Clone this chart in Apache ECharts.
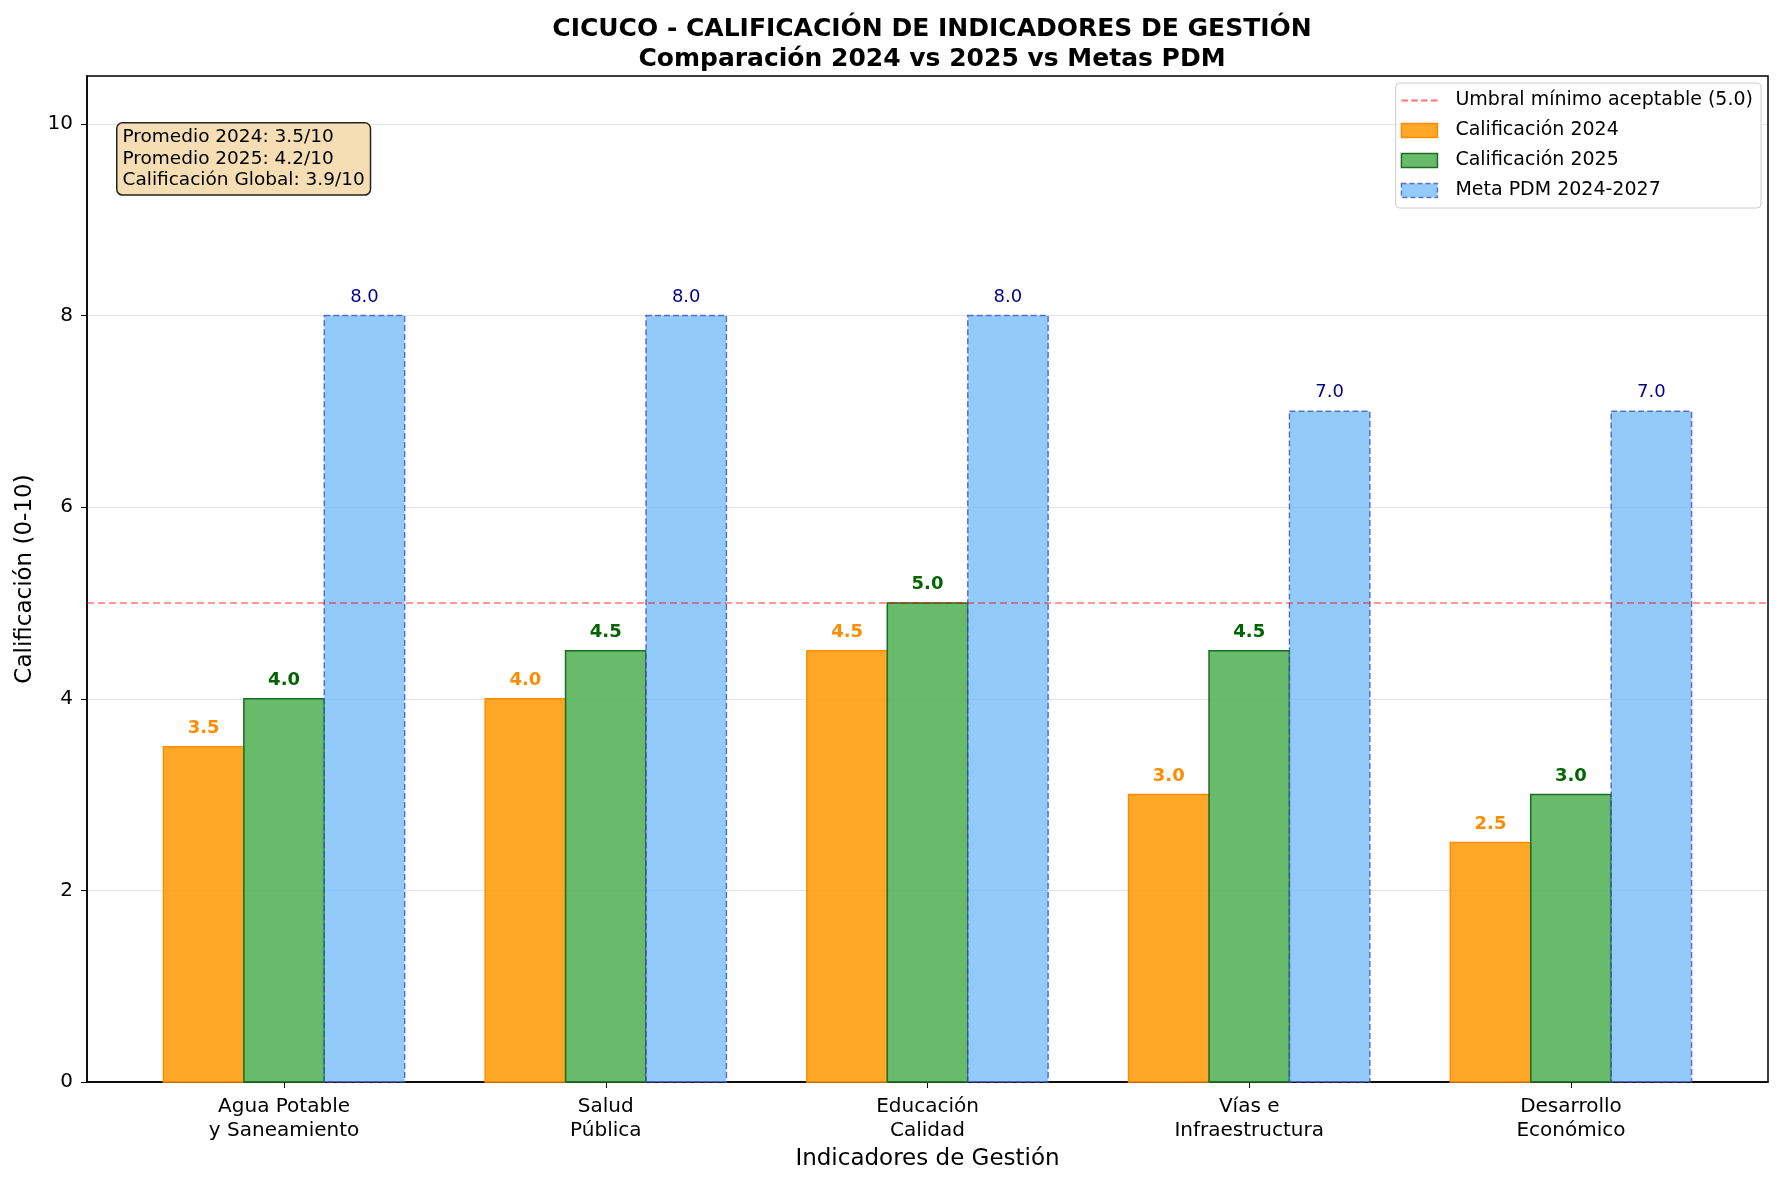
<!DOCTYPE html>
<html>
<head>
<meta charset="utf-8">
<script src="https://cdn.jsdelivr.net/npm/echarts@6/dist/echarts.min.js"></script>
<style>
    html, body { margin: 0; padding: 0; background: #fff; }
    #chart { width: 1785px; height: 1185px; }
</style>
</head>
<body>
<div id="chart"></div>
<script>
/*
|--------------------------------------------------------------------------
| Data
|--------------------------------------------------------------------------
*/

const categories = [
    'Agua Potable\ny Saneamiento',
    'Salud\nPública',
    'Educación\nCalidad',
    'Vías e\nInfraestructura',
    'Desarrollo\nEconómico',
];
const scores2024 = [3.5, 4.0, 4.5, 3.0, 2.5];
const scores2025 = [4.0, 4.5, 5.0, 4.5, 3.0];
const targetsPdm = [8.0, 8.0, 8.0, 7.0, 7.0];
const threshold = 5.0;
const summaryLines = [
    'Promedio 2024: 3.5/10',
    'Promedio 2025: 4.2/10',
    'Calificación Global: 3.9/10',
];

/*
|--------------------------------------------------------------------------
| Shared options
|--------------------------------------------------------------------------
*/

const fontFamily = 'DejaVu Sans';
const barWidth = 0.25;
const xMin = -0.6125;
const xMax = categories.length - 1 + 0.6125;
const thresholdColor = 'rgba(255, 0, 0, 0.55)';

// Dashed line used as legend icon for the threshold
const dashedLineIcon = 'path://M0,0h6v2h-6z M9,0h6v2h-6z M18,0h6v2h-6z M27,0h6v2h-6z';

const styles2024 = {
    fill: 'rgba(255, 152, 0, 0.85)',
    stroke: '#FF8C00',
    lineDash: null,
    label: '#FF8C00',
    fontWeight: 'bold',
};
const styles2025 = {
    fill: 'rgba(76, 175, 80, 0.85)',
    stroke: '#1B6E20',
    lineDash: null,
    label: '#006400',
    fontWeight: 'bold',
};
const stylesPdm = {
    fill: 'rgba(100, 181, 246, 0.7)',
    stroke: 'rgba(60, 70, 190, 0.75)',
    lineDash: [6, 3],
    label: '#00008B',
    fontWeight: 'normal',
};

// Draws one bar per category, shifted by offset, with its value on top
function barRenderer(offset, s) {
    return (params, api) => {
        const x = api.value(0) + offset;
        const y = api.value(1);
        const top = api.coord([x, y]);
        const base = api.coord([x, 0]);
        const w = api.size([barWidth, 0])[0];
        const labelPos = api.coord([x, y + 0.1]);

        return {
            type: 'group',
            children: [
                {
                    type: 'rect',
                    shape: { x: top[0] - w / 2, y: top[1], width: w, height: base[1] - top[1] },
                    style: { fill: s.fill, stroke: s.stroke, lineWidth: 1.5, lineDash: s.lineDash },
                },
                {
                    type: 'text',
                    x: labelPos[0],
                    y: labelPos[1],
                    style: {
                        text: y.toFixed(1),
                        fill: s.label,
                        font: `${s.fontWeight} 18px "${fontFamily}"`,
                        align: 'center',
                        verticalAlign: 'bottom',
                    },
                },
            ],
        };
    };
}

function toPoints(values) {
    return values.map((v, i) => [i, v]);
}

/*
|--------------------------------------------------------------------------
| Chart
|--------------------------------------------------------------------------
*/

function initializeChart() {
    const container = document.getElementById('chart');
    const chart = echarts.init(container, null, { renderer: 'canvas' });

    const series = [
        {
            name: 'Umbral mínimo aceptable (5.0)',
            type: 'line',
            symbol: 'none',
            z: 10,
            data: [[xMin, threshold], [xMax, threshold]],
            itemStyle: { color: thresholdColor },
            lineStyle: { color: thresholdColor, width: 1.5, type: [7, 4] },
            silent: true,
        },
        {
            name: 'Calificación 2024',
            type: 'custom',
            renderItem: barRenderer(-barWidth, styles2024),
            itemStyle: { color: styles2024.fill },
            data: toPoints(scores2024),
        },
        {
            name: 'Calificación 2025',
            type: 'custom',
            renderItem: barRenderer(0, styles2025),
            itemStyle: { color: styles2025.fill },
            data: toPoints(scores2025),
        },
        {
            name: 'Meta PDM 2024-2027',
            type: 'custom',
            renderItem: barRenderer(barWidth, stylesPdm),
            itemStyle: { color: stylesPdm.fill },
            data: toPoints(targetsPdm),
        },
    ];

    chart.setOption({
        animation: false,
        textStyle: { fontFamily },
        title: {
            text: 'CICUCO - CALIFICACIÓN DE INDICADORES DE GESTIÓN\nComparación 2024 vs 2025 vs Metas PDM',
            left: 927,
            top: 9,
            textAlign: 'center',
            textStyle: { fontFamily, fontSize: 25, fontWeight: 'bold', color: '#000', lineHeight: 30 },
        },
        grid: {
            left: 87,
            right: 17,
            top: 76,
            bottom: 103,
            show: true,
            borderColor: '#000',
            borderWidth: 1.5,
        },
        legend: {
            orient: 'vertical',
            right: 24,
            top: 83,
            padding: [8, 8, 8, 5],
            itemGap: 11,
            itemWidth: 36,
            itemHeight: 14,
            backgroundColor: 'rgba(255,255,255,0.85)',
            borderColor: '#cccccc',
            borderWidth: 1,
            borderRadius: 4,
            textStyle: { fontFamily, fontSize: 19, color: '#000', padding: [0, 0, 0, 13] },
            data: [
                { name: 'Umbral mínimo aceptable (5.0)', icon: dashedLineIcon, itemStyle: { color: thresholdColor, borderWidth: 0 } },
                { name: 'Calificación 2024', icon: 'rect', itemStyle: { color: styles2024.fill, borderColor: styles2024.stroke, borderWidth: 1.5 } },
                { name: 'Calificación 2025', icon: 'rect', itemStyle: { color: styles2025.fill, borderColor: styles2025.stroke, borderWidth: 1.5 } },
                { name: 'Meta PDM 2024-2027', icon: 'rect', itemStyle: { color: stylesPdm.fill, borderColor: stylesPdm.stroke, borderWidth: 1.5, borderType: [5, 3] } },
            ],
        },
        xAxis: {
            type: 'value',
            min: xMin,
            max: xMax,
            name: 'Indicadores de Gestión',
            nameLocation: 'middle',
            nameGap: 66,
            nameTextStyle: { fontFamily, fontSize: 23, color: '#000' },
            axisLine: { show: true, onZero: false, lineStyle: { color: '#000', width: 1.5 } },
            axisTick: { show: true, length: 6, customValues: [0, 1, 2, 3, 4], lineStyle: { color: '#000' } },
            axisLabel: {
                customValues: [0, 1, 2, 3, 4],
                formatter: v => categories[Math.round(v)],
                fontFamily,
                fontSize: 20,
                color: '#000',
                lineHeight: 24,
                margin: 13,
            },
            splitLine: { show: false },
        },
        yAxis: {
            type: 'value',
            min: 0,
            max: 10.5,
            interval: 2,
            name: 'Calificación (0-10)',
            nameLocation: 'middle',
            nameRotate: 90,
            nameGap: 47,
            nameTextStyle: { fontFamily, fontSize: 23, color: '#000' },
            axisLine: { show: true, onZero: false, lineStyle: { color: '#000', width: 1.5 } },
            axisTick: { show: true, length: 6, lineStyle: { color: '#000' } },
            axisLabel: { fontFamily, fontSize: 20, color: '#000', margin: 14, showMaxLabel: false },
            splitLine: { show: true, lineStyle: { color: 'rgba(0,0,0,0.1)', width: 1.2 } },
        },
        graphic: [{
            type: 'text',
            left: 116,
            top: 122,
            z: 20,
            style: {
                text: summaryLines.join('\n'),
                font: `18.5px "${fontFamily}"`,
                lineHeight: 21.6,
                fill: '#000',
                backgroundColor: '#F5DEB3',
                borderColor: '#222',
                borderWidth: 1.5,
                borderRadius: 5,
                padding: [3, 5, 3, 5],
            },
        }],
        series,
    });
}

initializeChart();
</script>
</body>
</html>
